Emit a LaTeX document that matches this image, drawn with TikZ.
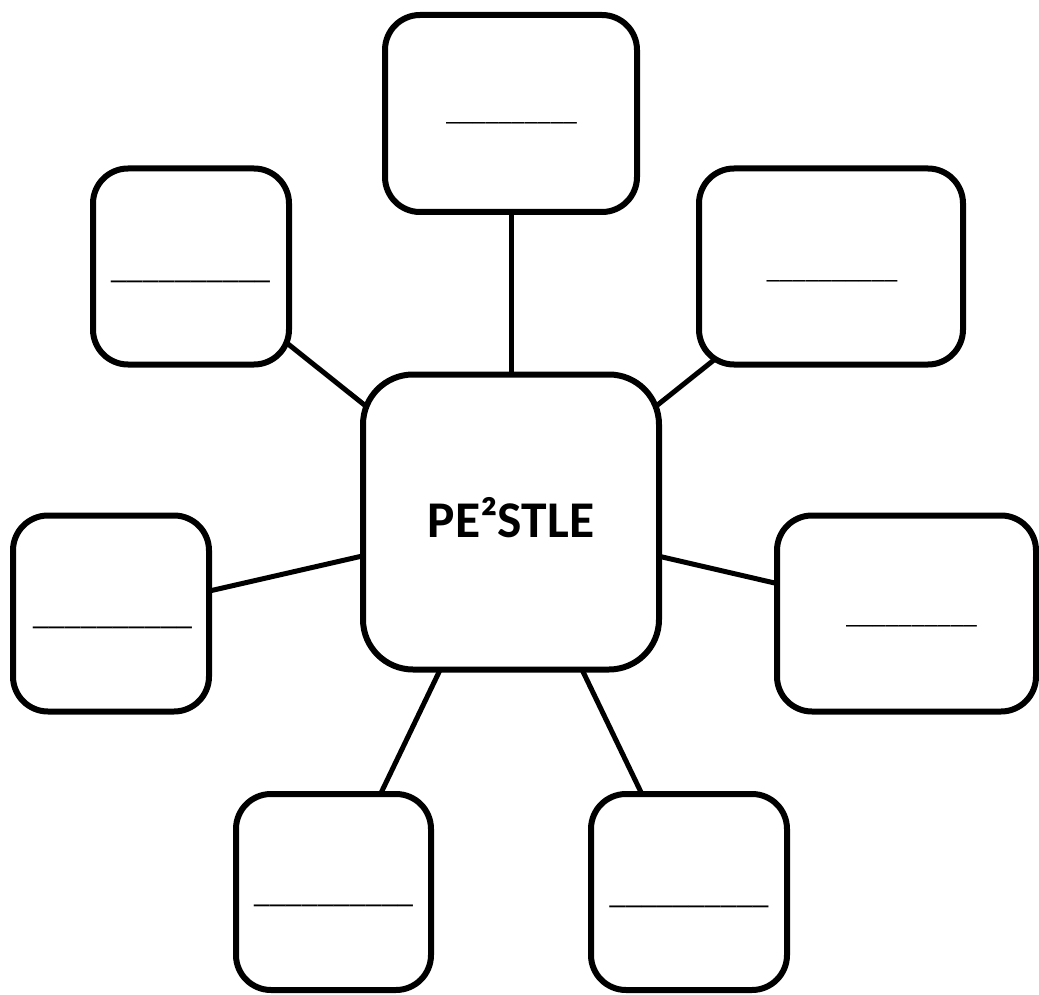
\documentclass[tikz,border=0pt]{standalone}
\usepackage{fontspec}
\setmainfont{Carlito}
\usetikzlibrary{backgrounds}
\tikzset{
  box/.style={draw=black, line width=6pt, fill=white, rounded corners=35pt, inner sep=0pt, outer sep=0pt},
  hub/.style={box, rounded corners=50pt},
  link/.style={draw=black, line width=5pt},
  blankS/.style={inner sep=0pt, outer sep=0pt, anchor=base, font=\fontsize{26.3}{30}\selectfont},
  blankL/.style={inner sep=0pt, outer sep=0pt, anchor=base, font=\fontsize{32}{36}\selectfont},
  title/.style={inner sep=0pt, outer sep=0pt, anchor=base, font=\fontsize{51.5}{60}\selectfont\bfseries}
}
\begin{document}
\begin{tikzpicture}[x=1pt,y=-1pt]
\useasboundingbox (0,0) rectangle (1039,995);
% boxes
\node[hub, minimum width=296pt, minimum height=295pt] (c) at (511,522) {};
\node[box, minimum width=252pt, minimum height=197pt] (t) at (511,113.5) {};
\node[box, minimum width=196pt, minimum height=196pt] (tl) at (191,266.5) {};
\node[box, minimum width=264pt, minimum height=196pt] (tr) at (831,266.5) {};
\node[box, minimum width=196pt, minimum height=196pt] (l) at (111,613.5) {};
\node[box, minimum width=259pt, minimum height=196pt] (r) at (906.5,613.5) {};
\node[box, minimum width=195pt, minimum height=196pt] (bl) at (333.5,892) {};
\node[box, minimum width=196pt, minimum height=196pt] (br) at (689,892) {};
% connectors
\begin{scope}[on background layer]
\draw[link] (t.center) -- (c.center);
\draw[link] (tl.center) -- (c.center);
\draw[link] (tr.center) -- (c.center);
\draw[link] (l.center) -- (c.center);
\draw[link] (r.center) -- (c.center);
\draw[link] (bl.center) -- (c.center);
\draw[link] (br.center) -- (c.center);
\end{scope}
% texts
\node[title] (ctext) at (511,537) {PE²STLE};
\node[blankS] (ttext) at (511.5,120.5) {\_\_\_\_\_\_\_\_\_\_};
\node[blankL] (tltext) at (190.5,279) {\_\_\_\_\_\_\_\_\_\_};
\node[blankS] (trtext) at (832,278.5) {\_\_\_\_\_\_\_\_\_\_};
\node[blankL] (ltext) at (112.5,624) {\_\_\_\_\_\_\_\_\_\_};
\node[blankS] (rtext) at (911.5,623.5) {\_\_\_\_\_\_\_\_\_\_};
\node[blankL] (bltext) at (333.5,902) {\_\_\_\_\_\_\_\_\_\_};
\node[blankL] (brtext) at (689,903) {\_\_\_\_\_\_\_\_\_\_};
\end{tikzpicture}
\end{document}
